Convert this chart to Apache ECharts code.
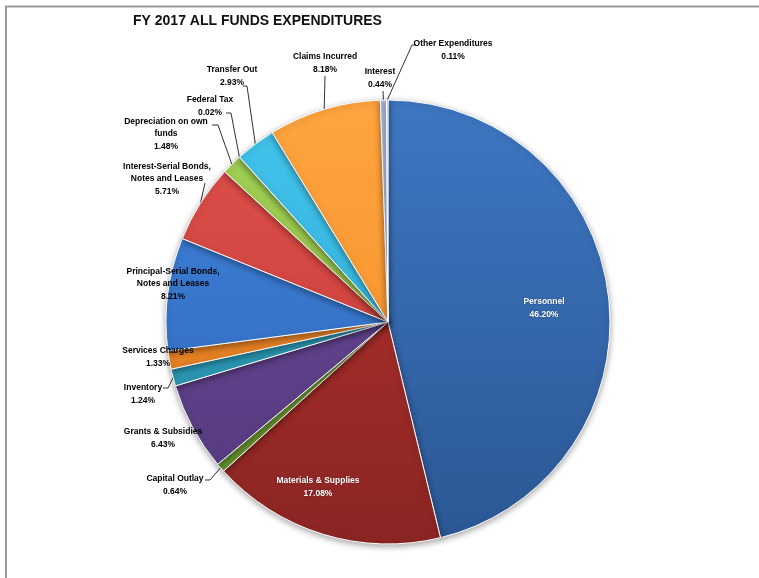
<!DOCTYPE html>
<html>
<head>
<meta charset="utf-8">
<script src="https://cdn.jsdelivr.net/npm/echarts@6/dist/echarts.min.js"></script>
<style>
  html, body { margin: 0; padding: 0; background: #ffffff; }
  #chart { width: 759px; height: 578px; }
</style>
</head>
<body>
<div id="chart"></div>
<script>
// Expenditure categories, clockwise from 12 o'clock
const categories = [
  'Personnel',
  'Materials & Supplies',
  'Capital Outlay',
  'Grants & Subsidies',
  'Inventory',
  'Services Charges',
  'Principal-Serial Bonds,\nNotes and Leases',
  'Interest-Serial Bonds,\nNotes and Leases',
  'Depreciation on own\nfunds',
  'Federal Tax',
  'Transfer Out',
  'Claims Incurred',
  'Interest',
  'Other Expenditures'
];

// Share of all-funds expenditures, percent
const shares = [46.20, 17.08, 0.64, 6.43, 1.24, 1.33, 8.21, 5.71, 1.48, 0.02, 2.93, 8.18, 0.44, 0.11];

// Slice colours: [top tone, bottom tone]
const palette = [
  ['#3e77c2', '#2b5794'],
  ['#b8332f', '#8a2523'],
  ['#7fae3d', '#5f8a2a'],
  ['#6a4b99', '#54397c'],
  ['#32a9c9', '#2588a3'],
  ['#f38f2e', '#d9741c'],
  ['#3f82dd', '#2f68b8'],
  ['#e0504b', '#c23a36'],
  ['#a4d257', '#86b53f'],
  ['#8a6bc4', '#6e52a3'],
  ['#41c4ec', '#2ea6cf'],
  ['#ffa43f', '#f08b25'],
  ['#a9c0e6', '#8ca6d2'],
  ['#e3aaa8', '#c98e8c']
];

// Label placement: centre of text block, optional leader line bend and end
const labelSpots = [
  { x: 544, y: 308 },
  { x: 318, y: 487 },
  { x: 175, y: 485, bend: [210, 480], end: [205, 480] },
  { x: 163, y: 438 },
  { x: 143, y: 394, bend: [168, 388], end: [163, 388] },
  { x: 158, y: 357 },
  { x: 173, y: 284 },
  { x: 167, y: 179, bend: [205, 183], end: [205, 183] },
  { x: 166, y: 134, bend: [218, 125], end: [212, 125] },
  { x: 210, y: 106, bend: [231, 113], end: [226, 113] },
  { x: 232, y: 76, bend: [247, 86], end: [243, 86] },
  { x: 325, y: 63, bend: [325, 76], end: [325, 76] },
  { x: 380, y: 78, bend: [383, 91], end: [383, 91] },
  { x: 453, y: 50, bend: [412, 45], end: [416, 45] }
];

const insideLabels = [0, 1];
const noLine = [0, 1, 3, 5, 6];

function shade(pair) {
  return {
    type: 'linear', global: true,
    x: 0, y: 100, x2: 0, y2: 544,
    colorStops: [
      { offset: 0, color: pair[0] },
      { offset: 1, color: pair[1] }
    ]
  };
}

const pieData = categories.map((name, i) => ({
  name: name,
  value: shares[i],
  itemStyle: { color: shade(palette[i]) },
  label: insideLabels.includes(i)
    ? { color: '#ffffff', textShadowColor: 'rgba(0,0,0,0.4)', textShadowBlur: 2 }
    : {},
  labelLine: { show: !noLine.includes(i) }
}));

const chart = echarts.init(document.getElementById('chart'), null, { renderer: 'canvas' });

chart.setOption({
  backgroundColor: '#ffffff',
  animation: false,
  title: {
    text: 'FY 2017 ALL FUNDS EXPENDITURES',
    left: 128,
    top: 9,
    textStyle: {
      fontFamily: 'Liberation Sans',
      fontSize: 14,
      fontWeight: 'bold',
      color: '#111111'
    }
  },
  graphic: [
    {
      type: 'polyline',
      shape: { points: [[6, 578], [6, 6.5], [759, 6.5]] },
      style: { stroke: '#9a9a9a', lineWidth: 2, fill: null },
      silent: true
    }
  ],
  series: [{
    type: 'pie',
    center: [388, 322],
    radius: [0, 222],
    startAngle: 90,
    clockwise: true,
    avoidLabelOverlap: false,
    itemStyle: {
      borderColor: '#ffffff',
      borderWidth: 1,
      shadowBlur: 6,
      shadowColor: 'rgba(0,0,0,0.35)',
      shadowOffsetY: 2
    },
    label: {
      show: true,
      position: 'outside',
      fontFamily: 'Liberation Sans',
      fontSize: 8.5,
      fontWeight: 'bold',
      lineHeight: 12.5,
      color: '#000000',
      align: 'center',
      formatter: p => p.name + '\n' + p.value.toFixed(2) + '%'
    },
    labelLine: {
      show: true,
      length: 10,
      length2: 5,
      lineStyle: { color: '#333333', width: 1 }
    },
    labelLayout: function (params) {
      const s = labelSpots[params.dataIndex];
      const out = { x: s.x, y: s.y, align: 'center', verticalAlign: 'middle' };
      if (s.bend && params.labelLinePoints) {
        out.labelLinePoints = [params.labelLinePoints[0], s.bend, s.end];
      }
      return out;
    },
    emphasis: { disabled: true },
    data: pieData
  }]
});
</script>
</body>
</html>
